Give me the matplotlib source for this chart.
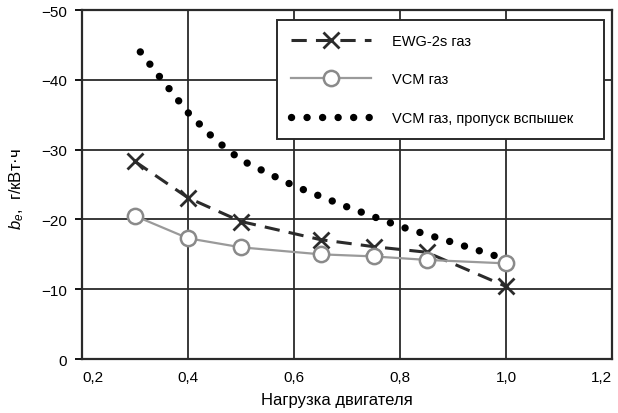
import matplotlib
matplotlib.use('Agg')
from matplotlib import pyplot as plt
from matplotlib.ticker import FuncFormatter

plt.rcParams['font.family'] = ['Liberation Sans', 'DejaVu Sans']
plt.rcParams['axes.unicode_minus'] = True
plt.rcParams['mathtext.fontset'] = 'custom'
plt.rcParams['mathtext.it'] = 'Liberation Sans:italic'
plt.rcParams['mathtext.rm'] = 'Liberation Sans'

# EWG-2s газ
ewg_x = [0.30, 0.40, 0.50, 0.65, 0.75, 0.85, 1.00]
ewg_y = [-28.3, -23.1, -19.7, -17.1, -16.1, -15.3, -10.4]

# VCM газ
vcm_x = [0.30, 0.40, 0.50, 0.65, 0.75, 0.85, 1.00]
vcm_y = [-20.5, -17.3, -16.0, -15.0, -14.7, -14.2, -13.7]

# VCM газ, пропуск вспышек
mis_x = [0.31, 0.35, 0.40, 0.45, 0.50, 0.60, 0.70, 0.80, 0.90, 1.00]
mis_y = [-44.0, -40.1, -35.3, -31.5, -28.5, -24.8, -21.8, -19.0, -16.7, -14.3]

labels = ['EWG-2s газ', 'VCM газ', 'VCM газ, пропуск вспышек']
x_ticks = [0.2, 0.4, 0.6, 0.8, 1.0, 1.2]
y_ticks = [0, -10, -20, -30, -40, -50]

fig = plt.figure(figsize=(6.18, 4.14), dpi=100)
ax = fig.add_axes([0.1327, 0.1304, 0.8576, 0.843])

ax.plot(ewg_x, ewg_y, color='#2b2b2b', lw=2.2, dashes=(5, 3),
        marker='x', ms=11.5, mew=2.0, label=labels[0], zorder=3)
ax.plot(vcm_x, vcm_y, color='#9a9a9a', lw=1.6, marker='o', ms=11,
        mfc='white', mec='#8a8a8a', mew=1.8, label=labels[1], zorder=4)
ax.plot(mis_x, mis_y, color='black', lw=5.3, linestyle=(0, (0.01, 2.1)),
        dash_capstyle='round', label=labels[2], zorder=5)

ax.set_xlim(0.2, 1.2)
ax.set_ylim(0, -50)
ax.set_xticks(x_ticks)
ax.set_yticks(y_ticks)
ax.xaxis.set_major_formatter(FuncFormatter(lambda v, p: ('%.1f' % v).replace('.', ',')))
ax.yaxis.set_major_formatter(FuncFormatter(lambda v, p: ('%d' % v).replace('-', '\u2212')))
ax.tick_params(axis='x', length=0, pad=8, labelsize=11)
ax.tick_params(axis='y', length=5, width=1.3, pad=6, labelsize=11)
xl = ax.get_xticklabels()
xl[0].set_ha('left')
xl[-1].set_ha('right')
ax.grid(True, color='#2a2a2a', lw=1.3)
ax.set_axisbelow(True)
for s in ax.spines.values():
    s.set_linewidth(1.6)
    s.set_color('#2a2a2a')

ax.set_xlabel('Нагрузка двигателя', fontsize=12)
ax.xaxis.set_label_coords(0.481, -0.095)
ax.set_ylabel('$b_e$,  г/кВт·ч', fontsize=12)
ax.yaxis.set_label_coords(-0.105, 0.49)

leg = ax.legend(loc='upper left', bbox_to_anchor=(0.368, 0.643, 0.617, 0.329),
                mode='expand', fontsize=10.5, numpoints=1, handlelength=5.5,
                handletextpad=1.4, labelspacing=1.7, borderpad=0.95,
                borderaxespad=0, fancybox=False, framealpha=1,
                edgecolor='#2a2a2a')
leg.get_frame().set_linewidth(1.4)

fig.savefig('out.png', dpi=100)
plt.close(fig)
